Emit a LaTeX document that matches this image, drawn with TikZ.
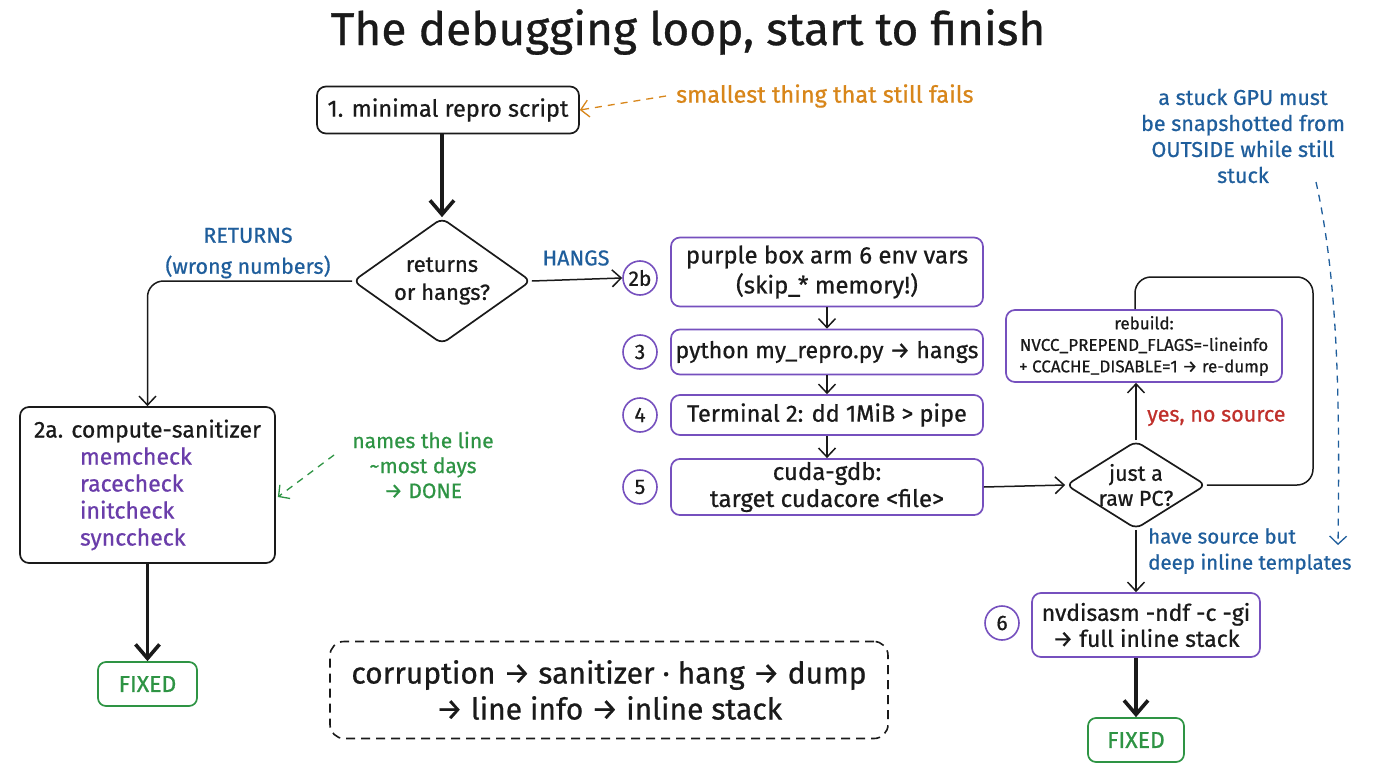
\documentclass[tikz,border=0pt]{standalone}
\usepackage{fontspec}
\setmainfont{Fira Sans}[FakeBold=0.7]
\usetikzlibrary{shapes.geometric,arrows.meta,calc}
\definecolor{cpurple}{HTML}{7650BE}
\definecolor{tpurple}{HTML}{6A3DAA}
\definecolor{cblue}{HTML}{1F5E9C}
\definecolor{cgreen}{HTML}{2E9444}
\definecolor{corange}{HTML}{D8861A}
\definecolor{cred}{HTML}{C0302B}
\definecolor{cink}{HTML}{1A1A1A}
\newcommand{\fs}[2]{\fontsize{#1}{#2}\selectfont}
\tikzset{
  bbox/.style={draw=cink, line width=1.7pt, rounded corners=9pt, fill=white, align=center, inner sep=3pt, text=cink},
  pbox/.style={draw=cpurple, line width=1.7pt, rounded corners=9pt, fill=white, align=center, inner sep=3pt, text=cink},
  gbox/.style={draw=cgreen, line width=1.7pt, rounded corners=8pt, fill=white, align=center, text=cgreen, font=\fs{23}{26}},
  pcirc/.style={circle, draw=cpurple, line width=1.6pt, minimum size=34pt, inner sep=0pt, text=cink, font=\fs{21}{24}},
  dia/.style={diamond, draw=cink, line width=1.7pt, rounded corners=7pt, fill=white, align=center, aspect=1.5, inner sep=-6pt, text=cink},
  conn/.style={draw=cink, line width=1.5pt, -{Straight Barb[length=9pt,width=17pt,line width=1.5pt]}},
  thick conn/.style={draw=cink, line width=3.6pt, -{Straight Barb[length=14pt,width=24pt,line width=3.6pt]}},
  note/.style={align=center, inner sep=0pt},
  dconn/.style={dashed, dash pattern=on 7pt off 6pt, line width=1.3pt, -{Straight Barb[length=8pt,width=17pt,line width=1.3pt]}},
}
\begin{document}
\begin{tikzpicture}[x=1pt,y=-1pt]
\useasboundingbox (0,0) rectangle (1376,768);
\fill[white] (0,0) rectangle (1376,768);

% title
\node[note, text=cink, font=\fs{46}{50}] (title) at (688,32) {The debugging loop, start to finish};

% step 1
\node[bbox, minimum width=262pt, minimum height=47pt, font=\fs{23.5}{26}] (s1) at (448,110) {1. minimal repro script};
\node[note, text=corange, font=\fs{23.5}{26}, anchor=west] (onote) at (676,96) {smallest thing that still fails};
\draw[dconn, draw=corange] (onote.west) ++(-10pt,0) coordinate (oa) -- (s1.east);

% decision 1
\node[dia, minimum width=178pt, minimum height=126pt, font=\fs{22}{28}] (d1) at (442,281) {returns\\or hangs?};
\draw[thick conn] (d1.north |- s1.south) -- (d1.north);

% left branch
\node[bbox, minimum width=255pt, minimum height=156pt, font=\fs{23}{27}, align=left] (s2a) at (147.5,485)
 {2a. compute-sanitizer\\
  \hspace*{46pt}\textcolor{tpurple}{memcheck}\\
  \hspace*{46pt}\textcolor{tpurple}{racecheck}\\
  \hspace*{46pt}\textcolor{tpurple}{initcheck}\\
  \hspace*{46pt}\textcolor{tpurple}{synccheck}};
\draw[conn, rounded corners=16pt] (d1.west) -| (s2a.north);
\node[note, text=cblue, font=\fs{21.5}{31}] (lret) at (248,253) {RETURNS\\(wrong numbers)};

\node[note, text=cgreen, font=\fs{21}{25}] (gnote) at (423,465) {names the line\\\textasciitilde most days\\→ DONE};
\coordinate (ga) at (334,455);
\draw[dconn, draw=cgreen] (ga) -- ($(s2a.east)+(2pt,-12pt)$);

\node[gbox, minimum width=99pt, minimum height=44pt] (fx1) at (147.5,684) {FIXED};
\draw[thick conn] (s2a.south) -- (fx1.north);

% right branch
\node[pcirc] (c2b) at (640,278) {2b};
\node[pbox, minimum width=312pt, minimum height=69pt, font=\fs{24}{30}] (b2b) at (827,272) {purple box arm 6 env vars\\(skip\_* memory!)};
\draw[conn] (d1.east) -- (c2b.west);
\node[note, text=cblue, font=\fs{21.5}{24}] (lhang) at (576,258) {HANGS};

\node[pcirc] (c3) at (640,352) {3};
\node[pbox, minimum width=312pt, minimum height=45pt, font=\fs{23}{26}] (b3) at (827,352) {python my\_repro.py → hangs};
\node[pcirc] (c4) at (640,415) {4};
\node[pbox, minimum width=312pt, minimum height=40pt, font=\fs{23.5}{26}] (b4) at (827,415) {Terminal 2: dd 1MiB > pipe};
\node[pcirc] (c5) at (640,487) {5};
\node[pbox, minimum width=312pt, minimum height=56pt, font=\fs{24}{27}] (b5) at (827,487) {cuda-gdb:\\target cudacore <file>};
\draw[conn] (b2b.south) -- (b3.north);
\draw[conn] (b3.south) -- (b4.north);
\draw[conn] (b4.south) -- (b5.north);

% decision 2
\node[dia, minimum width=140pt, minimum height=88pt, font=\fs{21.5}{25}] (d2) at (1136,485) {just a\\raw PC?};
\draw[conn] (b5.east) -- (d2.west);

\node[pbox, minimum width=276pt, minimum height=72pt, font=\fs{17}{21.5}] (rb) at (1144,346) {rebuild:\\NVCC\_PREPEND\_FLAGS=-lineinfo\\+ CCACHE\_DISABLE=1 → re-dump};
\draw[conn] (d2.north) -- (d2.north |- rb.south);
\node[note, text=cred, font=\fs{21.5}{24}, anchor=west] (lyes) at (1147,418) {yes, no source};

\coordinate (la) at (1313,485);
\coordinate (lb) at (1313,277);
\coordinate (lc) at (1135,277);
\draw[draw=cink, line width=1.5pt, rounded corners=16pt] (d2.east) -- (la) -- (lb) -- (lc) -- (lc |- rb.north);

% blue note
\node[note, text=cblue, font=\fs{21.5}{26}] (bnote) at (1243,136) {a stuck GPU must\\be snapshotted from\\OUTSIDE while still\\stuck};
\coordinate (ba) at (1316,182);
\coordinate (bb) at (1338,545);
\draw[dconn, draw=cblue] (ba) .. controls (1338,280) and (1340,400) .. (bb);

% step 6
\node[pcirc] (c6) at (1002,623) {6};
\node[pbox, minimum width=228pt, minimum height=64pt, font=\fs{23}{26}] (b6) at (1146,625) {nvdisasm -ndf -c -gi\\→ full inline stack};
\draw[conn] (d2.south) -- (d2.south |- b6.north);
\node[note, text=cblue, font=\fs{20.5}{26}, anchor=north west, align=left] (lsrc) at (1148,528) {have source but\\deep inline templates};

\node[gbox, minimum width=96pt, minimum height=44pt] (fx2) at (1136,740) {FIXED};
\draw[thick conn] (fx2.north |- b6.south) -- (fx2.north);

% summary
\node[draw=cink, line width=1.6pt, dashed, dash pattern=on 9pt off 6pt, rounded corners=14pt, minimum width=558pt, minimum height=97pt, align=center, font=\fs{30}{36}, text=cink] (sum) at (609,690) {corruption → sanitizer · hang → dump\\→ line info → inline stack};
\end{tikzpicture}
\end{document}
